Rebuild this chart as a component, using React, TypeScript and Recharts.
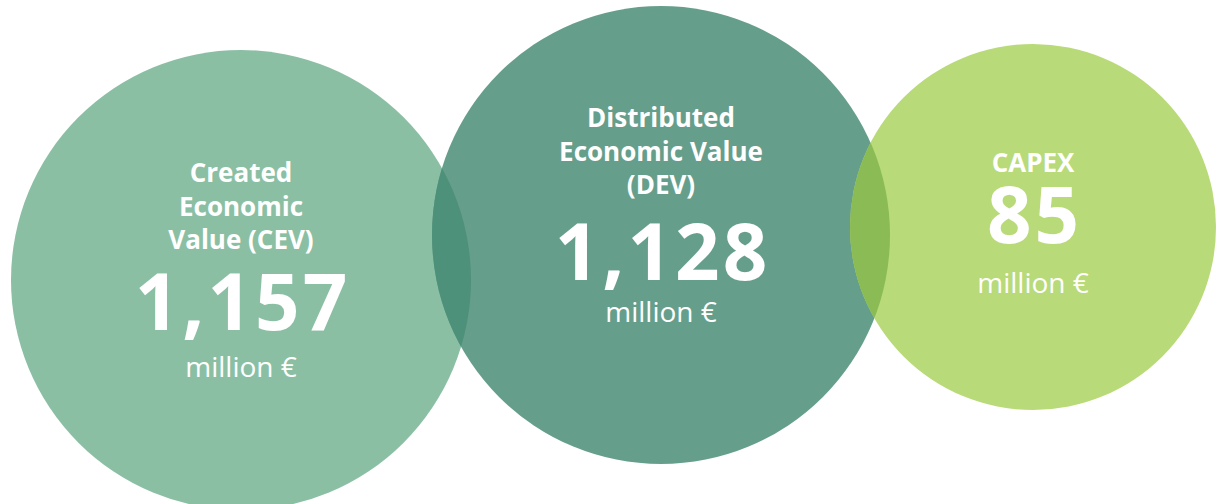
import { ScatterChart, Scatter, XAxis, YAxis } from 'recharts';

const categories = ['Created Economic Value (CEV)', 'Distributed Economic Value (DEV)', 'CAPEX'];
const labelLines = [['Created', 'Economic', 'Value (CEV)'], ['Distributed', 'Economic Value', '(DEV)'], ['CAPEX']];
const values = [1157, 1128, 85];
const unit = 'million €';

// bubble placement, in chart units (1 unit = 1px with the domains below)
const bubbleLayout = [
  { x: 241, y: 280, r: 230, fill: '#8bbfa4', lens: null, labelY: -98, numberY: 50, unitY: 97 },
  { x: 661, y: 235, r: 229, fill: '#669e8c', lens: { with: 0, fill: '#4e917a' }, labelY: -108, numberY: 45, unitY: 87 },
  { x: 1033, y: 227, r: 183, fill: '#b8da78', lens: { with: 1, fill: '#8abb55' }, labelY: -55, numberY: 16, unitY: 66 },
];

const WIDTH = 1218;
const HEIGHT = 504;
const FONT = '"Open Sans", sans-serif';

const bubbles = categories.map((name, i) => ({
  name,
  value: values[i],
  lines: labelLines[i],
  ...bubbleLayout[i],
}));

const CircleShape = (props: any) => {
  const { cx, cy, payload } = props;
  const lens = payload.lens;
  const other = lens ? bubbles[lens.with] : null;
  return (
    <g>
      <circle cx={cx} cy={cy} r={payload.r} fill={payload.fill} />
      {other && (
        <>
          <defs>
            <clipPath id={`lens-${payload.name.length}`}>
              <circle cx={cx + (other.x - payload.x)} cy={cy + (other.y - payload.y)} r={other.r} />
            </clipPath>
          </defs>
          <circle cx={cx} cy={cy} r={payload.r} fill={lens.fill} clipPath={`url(#lens-${payload.name.length})`} />
        </>
      )}
    </g>
  );
};

const LabelShape = (props: any) => {
  const { cx, cy, payload } = props;
  return (
    <g fill="#ffffff" fontFamily={FONT} textAnchor="middle">
      {payload.lines.map((line: string, j: number) => (
        <text key={line} x={cx} y={cy + payload.labelY + j * 33.5} fontSize={26} fontWeight={700}>
          {line}
        </text>
      ))}
      <text x={cx + 1.5} y={cy + payload.numberY} fontSize={78} fontWeight={700} letterSpacing={3}>
        {payload.value.toLocaleString('en-US')}
      </text>
      <text x={cx} y={cy + payload.unitY} fontSize={28} fontWeight={400}>
        {unit}
      </text>
    </g>
  );
};

export default function App() {
  return (
    <div style={{ position: 'absolute', left: 0, top: 0, width: WIDTH, height: HEIGHT, background: '#fff' }}>
      <ScatterChart width={WIDTH} height={HEIGHT} margin={{ top: 0, right: 0, bottom: 0, left: 0 }}>
        <XAxis type="number" dataKey="x" domain={[0, WIDTH]} hide allowDataOverflow />
        <YAxis type="number" dataKey="y" domain={[0, HEIGHT]} reversed hide allowDataOverflow />
        <Scatter data={bubbles} shape={CircleShape} isAnimationActive={false} />
        <Scatter data={bubbles} shape={LabelShape} isAnimationActive={false} />
      </ScatterChart>
    </div>
  );
}
